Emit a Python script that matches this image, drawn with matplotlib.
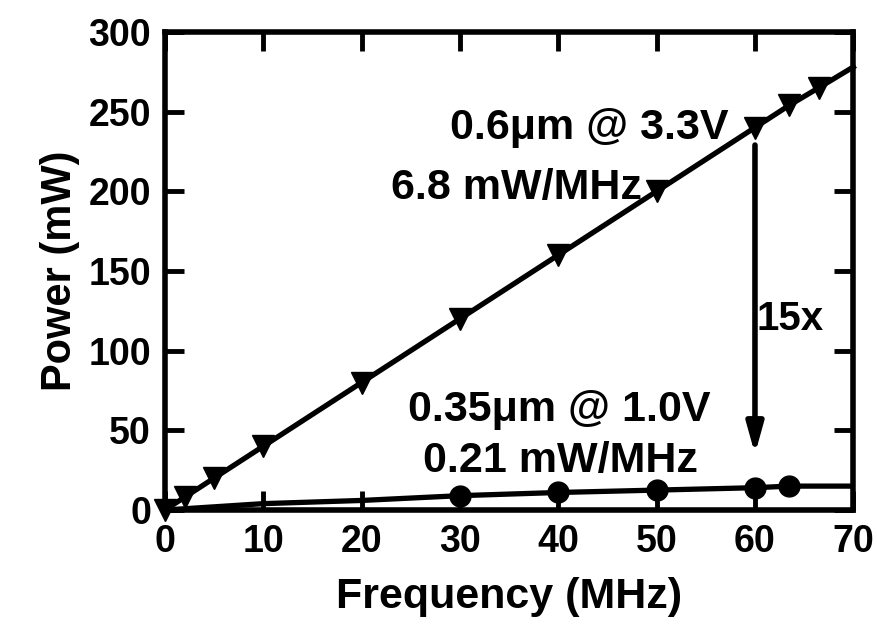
import matplotlib
matplotlib.use("Agg")
import matplotlib.pyplot as plt

plt.rcParams['font.family'] = ['Liberation Sans', 'DejaVu Sans']
plt.rcParams['font.weight'] = 'bold'

# 0.6um @ 3.3V series (last point is line only)
freq_hi = [0, 2, 5, 10, 20, 30, 40, 50, 60, 63.5, 66.5, 70]
power_hi = [0, 8, 20, 40, 80, 120, 160, 200, 240, 254, 265, 278]

# 0.35um @ 1.0V series
freq_lo = [0, 10, 20, 30, 40, 50, 60, 63.5, 70]
power_lo = [0, 4, 6, 9, 11, 12.5, 14, 15, 15]

x_ticks = [0, 10, 20, 30, 40, 50, 60, 70]
y_ticks = [0, 50, 100, 150, 200, 250, 300]

fig = plt.figure(figsize=(8.77, 6.38), dpi=100)
ax = fig.add_axes([0.188, 0.2006, 0.785, 0.7494])

ax.plot(freq_hi, power_hi, color='black', lw=3.8, marker='v', ms=16,
        markevery=list(range(len(freq_hi) - 1)), zorder=3, clip_on=False)
ax.plot(freq_lo, power_lo, color='black', lw=3.8, marker='o', ms=15,
        markevery=[3, 4, 5, 6, 7], zorder=3)

# 15x arrow
ax.annotate('', xy=(60, 35), xytext=(60, 229),
            arrowprops=dict(arrowstyle='-|>,head_width=0.5,head_length=1.8',
                            color='black', lw=4, shrinkA=0, shrinkB=0))

fs = 31
ax.text(43.2, 240, '0.6\u03bcm @ 3.3V', ha='center', va='center', fontsize=fs, fontweight='bold')
ax.text(35.7, 202, '6.8 mW/MHz', ha='center', va='center', fontsize=fs, fontweight='bold')
ax.text(63.6, 120, '15x', ha='center', va='center', fontsize=29, fontweight='bold')
ax.text(40.1, 63, '0.35\u03bcm @ 1.0V', ha='center', va='center', fontsize=fs, fontweight='bold')
ax.text(40.2, 31, '0.21 mW/MHz', ha='center', va='center', fontsize=fs, fontweight='bold')

ax.set_xlim(0, 70)
ax.set_ylim(0, 300)
ax.set_xticks(x_ticks)
ax.set_yticks(y_ticks)
ax.tick_params(direction='in', top=True, right=True, length=14, width=3.5,
               labelsize=27, pad=10)
for lab in ax.get_xticklabels() + ax.get_yticklabels():
    lab.set_fontweight('bold')
for sp in ax.spines.values():
    sp.set_linewidth(4)

ax.set_xlabel('Frequency (MHz)', fontsize=fs, fontweight='bold', labelpad=12)
ax.set_ylabel('Power (mW)', fontsize=30, fontweight='bold', labelpad=6)

fig.savefig('out.png', dpi=100)
